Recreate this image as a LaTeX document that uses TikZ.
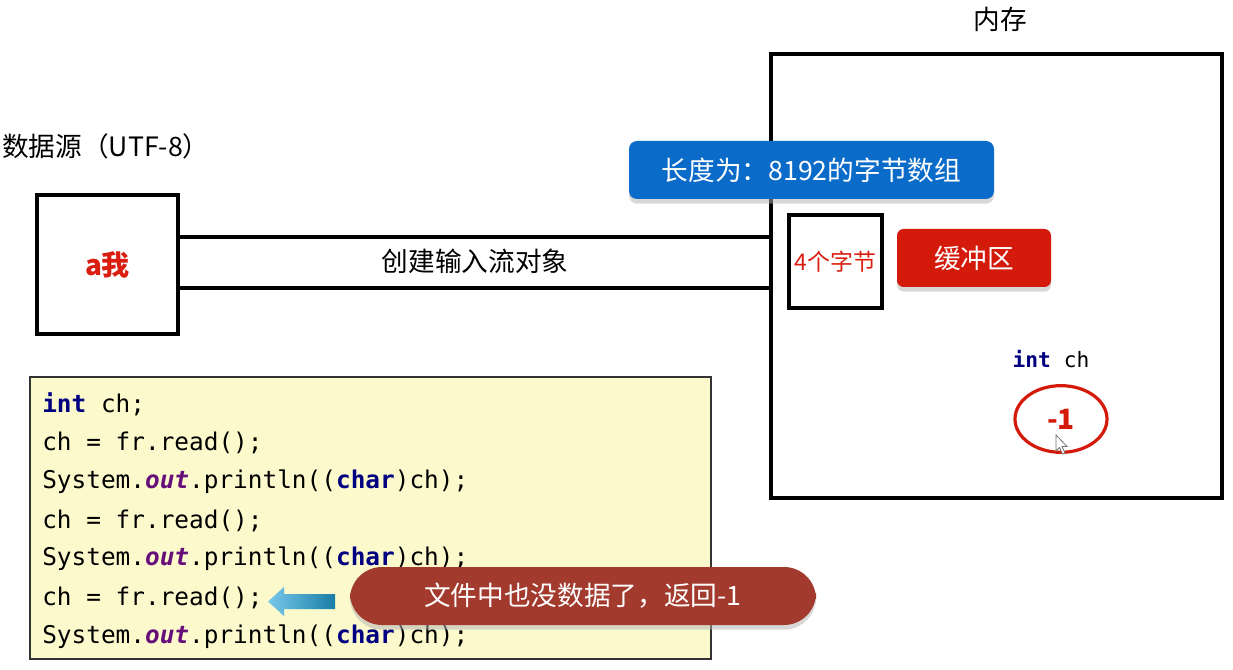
\documentclass[tikz,border=0pt]{standalone}
\usepackage{fontspec}
\setmainfont{Noto Sans CJK SC}
\newfontfamily\codefont{DejaVu Sans Mono}
\usetikzlibrary{shapes.geometric,shadows}

\definecolor{boxblue}{RGB}{10,107,200}
\definecolor{boxred}{RGB}{212,26,10}
\definecolor{pillred}{RGB}{163,58,46}
\definecolor{codebg}{RGB}{252,250,205}
\definecolor{kwblue}{RGB}{0,0,128}
\definecolor{fldpurple}{RGB}{102,14,122}
\definecolor{txtred}{RGB}{218,30,18}
\definecolor{arrowlight}{RGB}{120,200,235}
\definecolor{arrowdark}{RGB}{25,125,165}

\newcommand{\kwd}[1]{{\bfseries\color{kwblue}#1}}
\newcommand{\fldn}[1]{{\bfseries\itshape\color{fldpurple}#1}}

\tikzset{
  frame/.style={draw=black, line width=2.4pt, inner sep=0pt},
  label/.style={inner sep=0pt, font=\fontsize{20}{24}\selectfont},
  tag/.style={rounded corners=6pt, inner sep=0pt, text=white,
    font=\fontsize{20}{24}\selectfont,
    drop shadow={shadow xshift=0pt, shadow yshift=-3.5pt, fill=black!30, opacity=.5}},
  codeline/.style={anchor=west, inner sep=0pt,
    font=\codefont\fontsize{18.3}{22}\selectfont},
}

\begin{document}
\begin{tikzpicture}[x=0.75pt, y=-0.75pt]
\useasboundingbox (0,0) rectangle (1233,670);

% memory area
\node[label] (memtitle) at (1000,19) {内存};
\node[frame, minimum width=338.25pt, minimum height=333pt] (mem) at (996.5,276) {};

% data source
\node[label, anchor=west] (srctitle) at (2,146) {数据源（UTF-8）};
\node[frame, minimum width=105.75pt, minimum height=104.25pt] (src) at (107.5,264.5)
  {\fontsize{21}{24}\selectfont\bfseries\color{txtred}a我};

% input stream pipe
\draw[line width=2.4pt] ([yshift=20.6pt]src.east) -- ([yshift=20.6pt]src.east -| mem.west);
\draw[line width=2.4pt] ([yshift=-17.6pt]src.east) -- ([yshift=-17.6pt]src.east -| mem.west);
\node[label] (pipe) at (475,261) {创建输入流对象};

% byte array and buffer
\node[tag, fill=boxblue, minimum width=273.75pt, minimum height=43.5pt] (arr) at (811.5,170)
  {长度为：8192的字节数组};
\node[frame, minimum width=69.75pt, minimum height=69.75pt] (four) at (835.5,261.5)
  {\fontsize{17.2}{20}\selectfont\color{txtred}4个字节};
\node[tag, fill=boxred, rounded corners=5pt, minimum width=115.5pt, minimum height=43.5pt] (buf) at (974,258)
  {缓冲区};

% variable ch
\node[inner sep=0pt, font=\codefont\fontsize{15.9}{20}\selectfont] (chvar) at (1051,359)
  {\kwd{int} ch};
\node[ellipse, draw=boxred, line width=2.4pt, minimum width=69pt, minimum height=50pt,
  inner sep=0pt] (val) at (1061,419)
  {\fontsize{21}{24}\selectfont\bfseries\color{boxred}-1};
% mouse pointer
\draw[black!55, fill=white, line width=0.6pt]
  (1056,435) -- (1056,451) -- (1059.5,447.5) -- (1062.5,454) -- (1065,453)
  -- (1062,446.5) -- (1067,446.5) -- cycle;

% code listing
\node[draw=black!80, line width=1pt, fill=codebg, minimum width=510.75pt,
  minimum height=211.5pt, inner sep=0pt] (code) at (370.5,518) {};
\node[codeline] (l1) at (42,404) {\kwd{int} ch;};
\node[codeline] (l2) at (42,443) {ch = fr.read();};
\node[codeline] (l3) at (42,482) {System.\fldn{out}.println((\kwd{char})ch);};
\node[codeline] (l4) at (42,521) {ch = fr.read();};
\node[codeline] (l5) at (42,559) {System.\fldn{out}.println((\kwd{char})ch);};
\node[codeline] (l6) at (42,598) {ch = fr.read();};
\node[codeline] (l7) at (42,637) {System.\fldn{out}.println((\kwd{char})ch);};

% pointer arrow to the third read
\shade[left color=arrowlight, right color=arrowdark]
  (268,601.5) -- (284,587) -- (284,594) -- (335,594) -- (335,609)
  -- (284,609) -- (284,616) -- cycle;

% note
\node[tag, fill=pillred, rounded corners=24pt, minimum width=349.5pt, minimum height=43.5pt]
  (note) at (583,596) {文件中也没数据了，返回-1};
\end{tikzpicture}
\end{document}
